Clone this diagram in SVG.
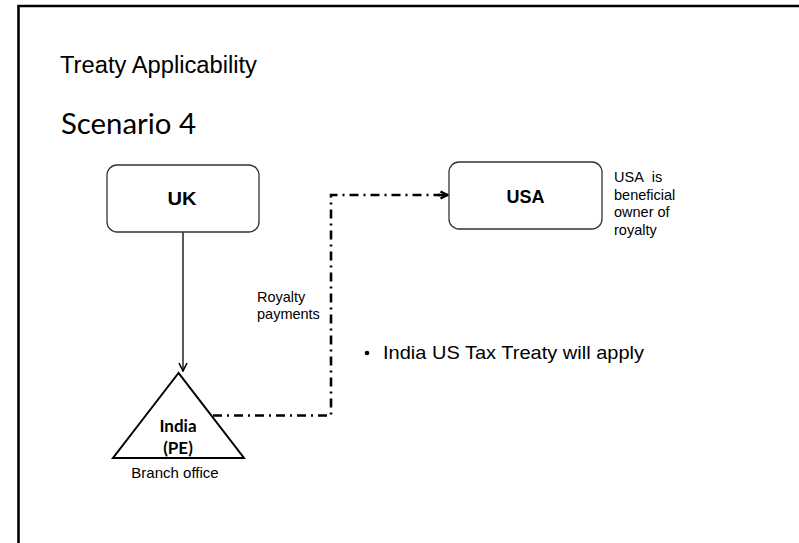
<svg xmlns="http://www.w3.org/2000/svg" width="799" height="543" viewBox="0 0 799 543">
  <style>
    .sans { font-family: "Liberation Sans", Arial, sans-serif; fill: #000; }
    .cal { font-family: Lato, "Open Sans", sans-serif; fill: #000; }
    .box { fill: #fff; stroke: #333; stroke-width: 1.3; }
    .flow { fill: none; stroke: #000; stroke-width: 2.6; stroke-dasharray: 9 5 2 5; }
  </style>
  <defs>
    <marker id="chev" viewBox="0 0 10 10" refX="9" refY="5" markerWidth="10" markerHeight="10" markerUnits="userSpaceOnUse" orient="auto">
      <path d="M1,1 L9,5 L1,9" fill="none" stroke="#000" stroke-width="1.6"/>
    </marker>
    <marker id="chevBold" viewBox="0 0 10 10" refX="9" refY="5" markerWidth="10" markerHeight="10" markerUnits="userSpaceOnUse" orient="auto">
      <path d="M1.5,1.5 L8.5,5 L1.5,8.5" fill="none" stroke="#000" stroke-width="2.4"/>
    </marker>
  </defs>

  <rect width="799" height="543" fill="#fff"/>

  <!-- slide frame: top and left edges -->
  <path d="M18.5,543 V6 H799" fill="none" stroke="#000" stroke-width="2.6"/>

  <!-- headings -->
  <text class="sans" x="60" y="73" font-size="23" textLength="197" lengthAdjust="spacingAndGlyphs">Treaty Applicability</text>
  <text class="cal" x="61" y="134" font-size="29" textLength="135" lengthAdjust="spacingAndGlyphs">Scenario 4</text>

  <!-- connectors -->
  <g id="connectors">
    <line x1="183" y1="232" x2="183" y2="371" stroke="#000" stroke-width="1.3" marker-end="url(#chev)"/>
    <path class="flow" d="M213,415.5 H331 V195 H440"/>
    <line x1="438" y1="195" x2="448" y2="195" stroke="#000" stroke-width="2.6" marker-end="url(#chevBold)"/>
  </g>

  <!-- UK -->
  <g id="node-uk">
    <rect class="box" x="107" y="165" width="152" height="67" rx="10"/>
    <text class="sans" x="182" y="205" font-size="18" font-weight="bold" text-anchor="middle" textLength="29" lengthAdjust="spacingAndGlyphs">UK</text>
  </g>

  <!-- USA -->
  <g id="node-usa">
    <rect class="box" x="449" y="162" width="153" height="67" rx="10"/>
    <text class="sans" x="525.5" y="202.5" font-size="18" font-weight="bold" text-anchor="middle">USA</text>
  </g>

  <!-- India branch (PE) -->
  <g id="node-india">
    <polygon points="178.5,373 113,458 244,458" fill="#fff" stroke="#000" stroke-width="2"/>
    <text class="cal" x="178" y="432" font-size="17" font-weight="bold" text-anchor="middle">India</text>
    <text class="cal" x="178" y="454" font-size="17" font-weight="bold" text-anchor="middle">(PE)</text>
    <text class="sans" x="175" y="478" font-size="15" text-anchor="middle">Branch office</text>
  </g>

  <!-- annotations -->
  <g id="label-royalty">
    <text class="sans" font-size="14.5"><tspan x="257" y="302">Royalty</tspan><tspan x="257" y="319">payments</tspan></text>
  </g>
  <g id="label-owner">
    <text class="sans" font-size="14.5"><tspan x="614" y="182">USA&#160; is</tspan><tspan x="614" y="199.5">beneficial</tspan><tspan x="614" y="217">owner of</tspan><tspan x="614" y="234.5">royalty</tspan></text>
  </g>
  <g id="note">
    <circle cx="367" cy="353" r="2.3" fill="#000"/>
    <text class="sans" x="383" y="359" font-size="19" textLength="261" lengthAdjust="spacingAndGlyphs">India US Tax Treaty will apply</text>
  </g>
</svg>
